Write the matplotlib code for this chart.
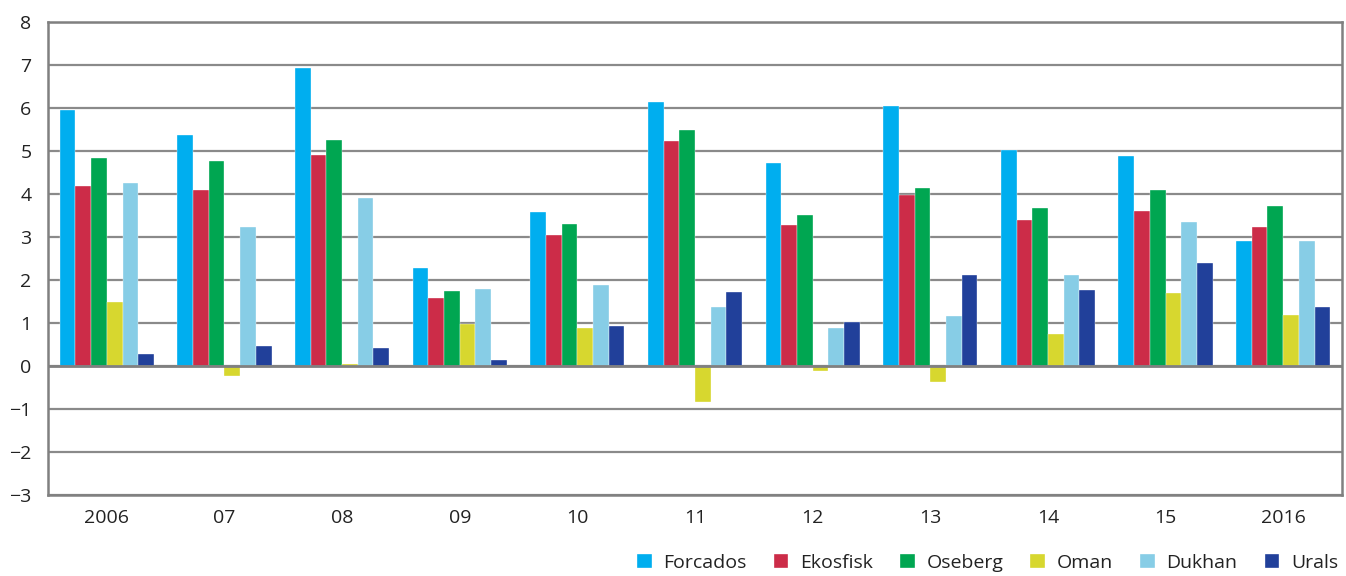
import numpy as np
import matplotlib.pyplot as plt

plt.rcParams['font.family'] = ['Open Sans', 'DejaVu Sans']

years = ['2006', '07', '08', '09', '10', '11', '12', '13', '14', '15', '2016']
crudes = ['Forcados', 'Ekosfisk', 'Oseberg', 'Oman', 'Dukhan', 'Urals']
colors = ['#00aeef', '#cc2c48', '#00a651', '#d7d72f', '#87cde6', '#21409a']

forcados = [5.96, 5.37, 6.93, 2.28, 3.58, 6.14, 4.72, 6.05, 5.02, 4.88, 2.91]
ekosfisk = [4.18, 4.09, 4.91, 1.58, 3.04, 5.23, 3.28, 3.98, 3.40, 3.60, 3.22]
oseberg = [4.83, 4.76, 5.25, 1.74, 3.29, 5.48, 3.50, 4.14, 3.67, 4.09, 3.72]
oman = [1.49, -0.23, 0.04, 0.98, 0.88, -0.84, -0.12, -0.37, 0.74, 1.70, 1.19]
dukhan = [4.26, 3.22, 3.91, 1.78, 1.89, 1.38, 0.88, 1.16, 2.12, 3.35, 2.90]
urals = [0.27, 0.46, 0.41, 0.14, 0.92, 1.71, 1.02, 2.11, 1.77, 2.39, 1.38]

series = [forcados, ekosfisk, oseberg, oman, dukhan, urals]

fig = plt.figure(figsize=(13.46, 5.76), dpi=100)
ax = fig.add_axes([0.0357, 0.1406, 0.9613, 0.8214])

x = np.arange(len(years))
w = 0.8 / len(series)
for i, (vals, name, col) in enumerate(zip(series, crudes, colors)):
    ax.bar(x - 0.4 + w * (i + 0.5), vals, width=w, color=col, label=name,
           edgecolor='white', linewidth=0.25, zorder=3)

ax.set_xlim(-0.5, len(years) - 0.5)
ax.set_ylim(-3, 8)
ax.set_yticks(range(-3, 9))
ax.set_yticklabels([str(v).replace('-', '\u2212') for v in range(-3, 9)])
ax.set_xticks(x)
ax.set_xticklabels(years)
ax.yaxis.grid(True, color='#8a8a8a', linewidth=1.6, zorder=0)
ax.set_axisbelow(True)
ax.axhline(0, color='#808080', linewidth=2, zorder=4)
for s in ax.spines.values():
    s.set_color('#808080')
    s.set_linewidth(1.8)
ax.tick_params(axis='x', length=0, pad=10, labelsize=14, labelcolor='#222222')
ax.tick_params(axis='y', length=0, pad=12, labelsize=14, labelcolor='#222222')

ax.legend(loc='upper right', bbox_to_anchor=(1.003, -0.108), ncol=6, frameon=False,
          fontsize=14, handlelength=0.75, handleheight=0.75, handletextpad=0.6,
          columnspacing=1.4, borderaxespad=0, labelcolor='#222222')

fig.savefig('out.png', dpi=100)
